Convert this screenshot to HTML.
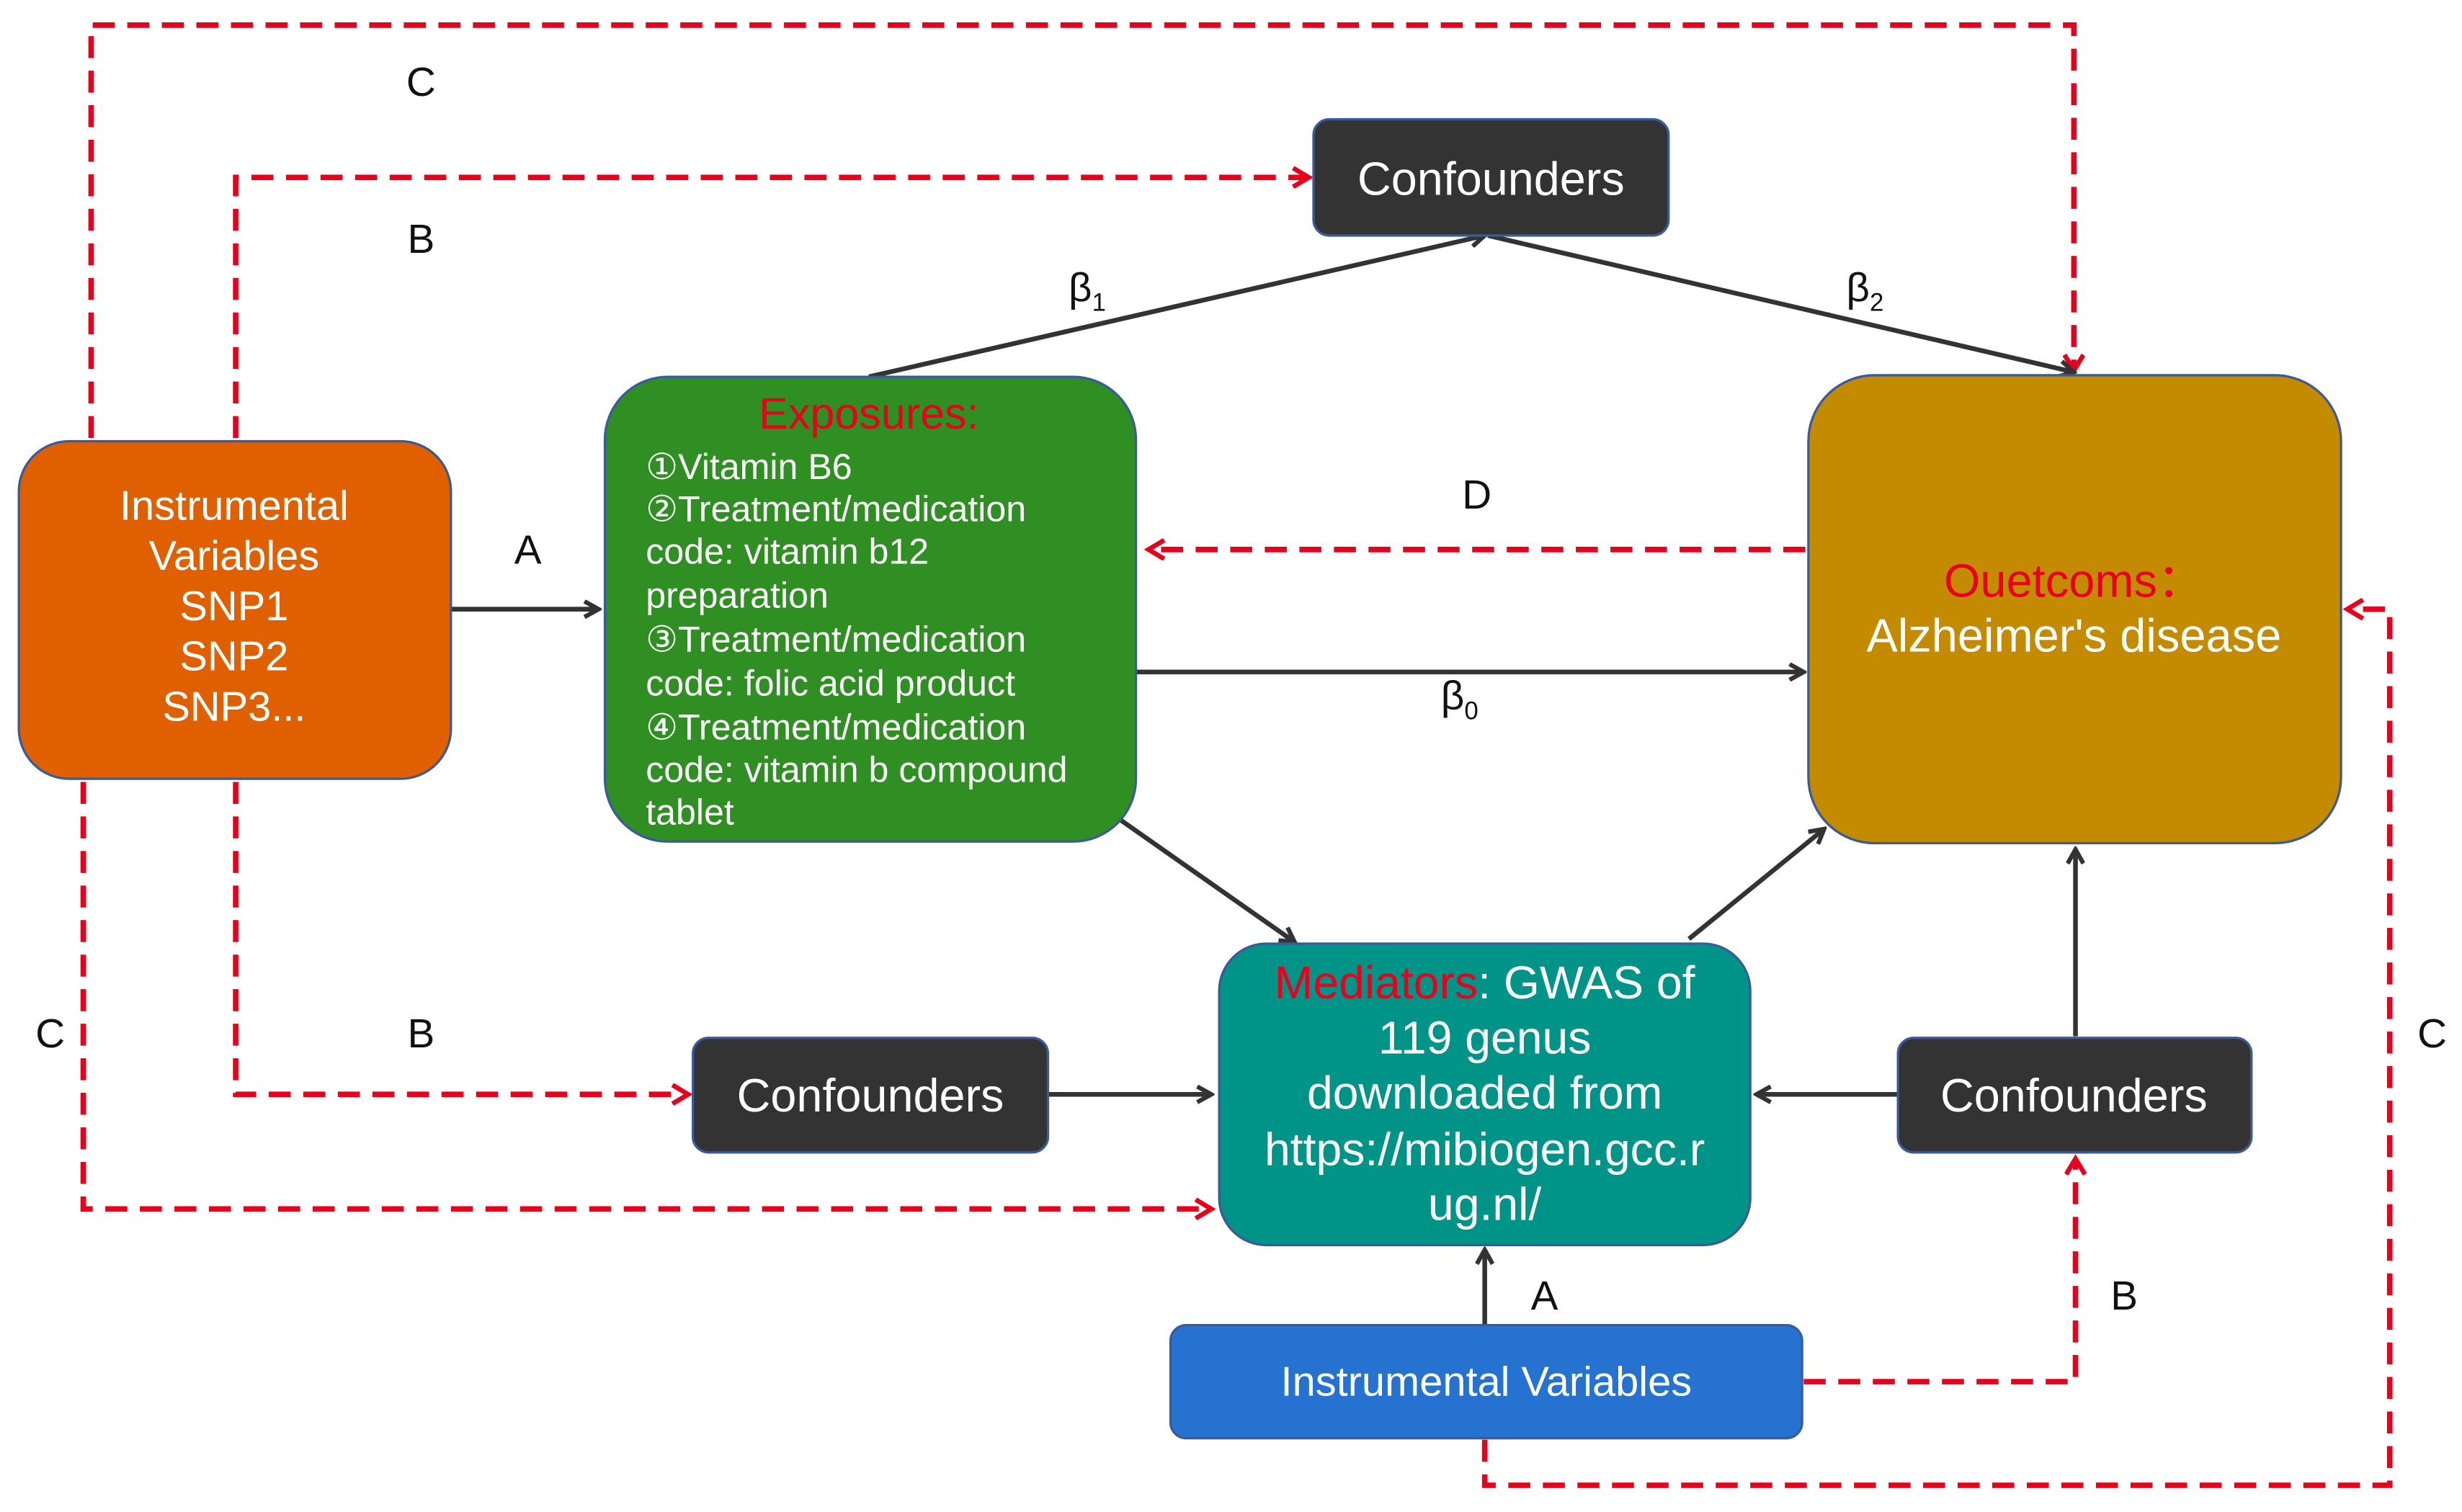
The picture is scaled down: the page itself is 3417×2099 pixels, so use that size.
<!DOCTYPE html>
<html><head><meta charset="utf-8"><style>
html,body{margin:0;padding:0;background:#fff;}
svg{display:block;}
text{font-family:"Liberation Sans",Arial,sans-serif;}
</style></head><body>
<svg width="3417" height="2099" viewBox="0 0 1567 963" preserveAspectRatio="none" xmlns="http://www.w3.org/2000/svg">
<defs>
<marker id="ab" markerWidth="12" markerHeight="12" refX="10" refY="6" orient="auto" markerUnits="userSpaceOnUse" viewBox="0 0 12 12">
<path d="M1,1 L10,6 L1,11" fill="none" stroke="#333" stroke-width="2.8"/></marker>
<marker id="ar" markerWidth="14" markerHeight="14" refX="11" refY="7" orient="auto" markerUnits="userSpaceOnUse" viewBox="0 0 14 14">
<path d="M1,1 L11,7 L1,13" fill="none" stroke="#E8001C" stroke-width="3"/></marker>
</defs>
<rect width="1567" height="963" fill="#fff"/>

<g fill="none" stroke="#E8001C" stroke-width="3.5" stroke-dasharray="14,8">
<path d="M58,279 L58,16 L1320,16 L1320,236" marker-end="url(#ar)"/>
<path d="M150,279 L150,113 L833,113" marker-end="url(#ar)"/>
<path d="M1149,350 L731,350" marker-end="url(#ar)"/>
<path d="M150,498 L150,697 L438,697" marker-end="url(#ar)"/>
<path d="M53,498 L53,770 L771,770" marker-end="url(#ar)"/>
<path d="M1148,880 L1321,880 L1321,738" marker-end="url(#ar)"/>
<path d="M945,917 L945,946 L1521,946 L1521,388 L1494,388" marker-end="url(#ar)"/>
</g>

<g fill="none" stroke="#333" stroke-width="3">
<path d="M287,388 L381,388" marker-end="url(#ab)"/>
<path d="M553,240 L945,150" marker-end="url(#ab)"/>
<path d="M947,150 L1320,237" marker-end="url(#ab)"/>
<path d="M723,428 L1148,428" marker-end="url(#ab)"/>
<path d="M710,520 L824,600" marker-end="url(#ab)"/>
<path d="M1075,598 L1161,528" marker-end="url(#ab)"/>
<path d="M1321,660 L1321,541" marker-end="url(#ab)"/>
<path d="M667,697 L771,697" marker-end="url(#ab)"/>
<path d="M1208,697 L1118,697" marker-end="url(#ab)"/>
<path d="M945,844 L945,796" marker-end="url(#ab)"/>
</g>

<rect x="12" y="281" width="275" height="215" rx="32" fill="#E06000" stroke="#3A5A9A" stroke-width="1.5"/>
<rect x="385" y="240" width="338" height="296" rx="40" fill="#2F8F23" stroke="#3A5A9A" stroke-width="1.5"/>
<rect x="1151" y="239" width="339" height="298" rx="42" fill="#C48A00" stroke="#3A5A9A" stroke-width="1.5"/>
<rect x="836" y="76" width="226" height="74" rx="10" fill="#333" stroke="#3A5A9A" stroke-width="1.5"/>
<rect x="441" y="661" width="226" height="73" rx="10" fill="#333" stroke="#3A5A9A" stroke-width="1.5"/>
<rect x="1208" y="661" width="225" height="73" rx="10" fill="#333" stroke="#3A5A9A" stroke-width="1.5"/>
<rect x="776" y="601" width="338" height="192" rx="30" fill="#009488" stroke="#3A5A9A" stroke-width="1.5"/>
<rect x="745" y="844" width="402" height="72" rx="10" fill="#2672D0" stroke="#3A5A9A" stroke-width="1.5"/>

<g fill="#fff" font-size="26.5" text-anchor="middle">
<text x="149" y="331">Instrumental</text>
<text x="149" y="363">Variables</text>
<text x="149" y="395">SNP1</text>
<text x="149" y="427">SNP2</text>
<text x="149" y="459">SNP3...</text>
</g>
<text x="553" y="273" font-size="28" fill="#E8001C" text-anchor="middle">Exposures:</text>
<g fill="#fff" font-size="23">
<text x="411" y="305">①Vitamin B6</text>
<text x="411" y="332">②Treatment/medication</text>
<text x="411" y="359">code: vitamin b12</text>
<text x="411" y="387">preparation</text>
<text x="411" y="415">③Treatment/medication</text>
<text x="411" y="443">code: folic acid product</text>
<text x="411" y="471">④Treatment/medication</text>
<text x="411" y="498">code: vitamin b compound</text>
<text x="411" y="525">tablet</text>
</g>
<text x="1320" y="380" font-size="29.8" fill="#E8001C" text-anchor="middle">Ouetcoms：</text>
<text x="1320" y="415" font-size="29.8" fill="#fff" text-anchor="middle">Alzheimer's disease</text>
<g fill="#fff" font-size="29.7" text-anchor="middle">
<text x="949" y="124">Confounders</text>
<text x="554" y="708">Confounders</text>
<text x="1320" y="708">Confounders</text>
</g>
<g fill="#fff" font-size="29.5" text-anchor="middle">
<text x="945" y="636"><tspan fill="#E8001C">Mediators</tspan>:  GWAS of</text>
<text x="945" y="671">119 genus</text>
<text x="945" y="706">downloaded from</text>
<text x="945" y="742">https://mibiogen.gcc.r</text>
<text x="945" y="777">ug.nl/</text>
</g>
<text x="946" y="889" font-size="26.5" fill="#fff" text-anchor="middle">Instrumental Variables</text>

<g fill="#111" font-size="26" text-anchor="middle">
<text x="336" y="359">A</text>
<text x="268" y="61">C</text>
<text x="268" y="161">B</text>
<text x="940" y="324">D</text>
<text x="268" y="667">B</text>
<text x="32" y="667">C</text>
<text x="983" y="834">A</text>
<text x="1352" y="834">B</text>
<text x="1548" y="667">C</text>
<text x="692" y="192">β<tspan font-size="16" dy="6">1</tspan></text>
<text x="1187" y="192">β<tspan font-size="16" dy="6">2</tspan></text>
<text x="929" y="452">β<tspan font-size="16" dy="6">0</tspan></text>
</g>
</svg>
</body></html>
